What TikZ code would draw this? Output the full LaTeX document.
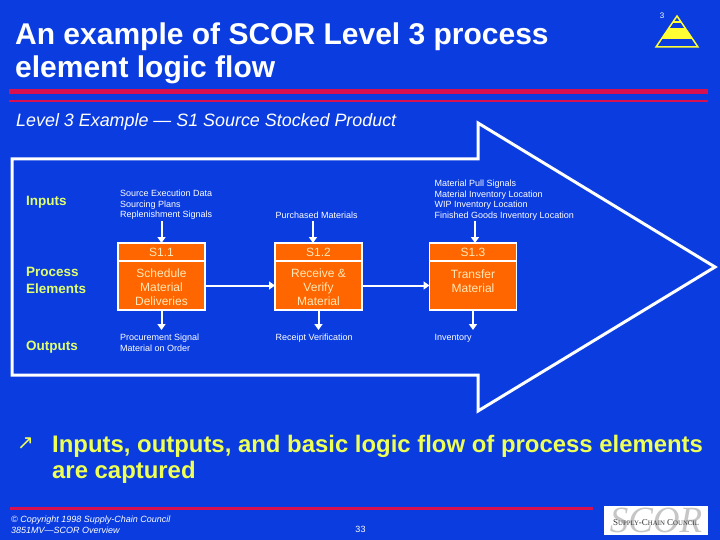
\documentclass[tikz,border=0pt]{standalone}
\usepackage{fontspec}
\setmainfont{Liberation Sans}
\newfontfamily\symfont{DejaVu Sans}
\newfontfamily\logofont{Liberation Serif}
\usetikzlibrary{shapes,positioning,fit,calc,arrows.meta}

\definecolor{slideblue}{HTML}{0A3CE0}
\definecolor{barred}{HTML}{D81050}
\definecolor{procorange}{HTML}{FF6600}
\definecolor{boxtext}{HTML}{FFE8B8}
\definecolor{sidegreen}{HTML}{E0FF70}
\definecolor{bulletyellow}{HTML}{EEFF55}
\definecolor{pyryellow}{HTML}{FFFF33}

\newcommand{\logocaps}[1]{{\fontsize{6.8}{8}\selectfont #1}}
\newcommand{\firstline}{\rule{0pt}{13pt}}

\tikzset{
    idbox/.style={draw=white, line width=1.4pt, fill=procorange, text=boxtext, minimum width=87pt, minimum height=18pt, inner sep=0pt, outer sep=0pt, font=\fontsize{12}{14}\selectfont},
    namebox/.style={draw=white, line width=1.4pt, fill=procorange, text=boxtext, minimum width=87pt, minimum height=49pt, inner sep=0pt, outer sep=0pt, align=center, font=\fontsize{12}{14}\selectfont},
    smalltext/.style={text=white, anchor=north west, inner sep=0pt, align=left, font=\fontsize{9}{10.8}\selectfont},
    sidetext/.style={text=sidegreen, anchor=west, inner sep=0pt, align=left, font=\bfseries\fontsize{13.5}{17}\selectfont},
    flowline/.style={draw=white, line width=2pt, -{Triangle[length=6pt,width=8pt]}},
}

\begin{document}
\begin{tikzpicture}[x=1pt, y=-1pt]
        \useasboundingbox (0, 0) rectangle (720, 540);
        \fill [slideblue] (0, 0) rectangle (720, 540);

        % Title and rules
        \node (title) [anchor=north west, text=white, inner sep=0pt, align=left, font=\bfseries\fontsize{30}{32.5}\selectfont] at (15, 23) {An example of SCOR Level 3 process\\element logic flow};
        \fill [barred] (9, 89) rectangle (708, 94);
        \fill [barred] (9, 100) rectangle (708, 102);
        \node (subtitle) [anchor=west, text=white, inner sep=0pt, font=\itshape\fontsize{17.9}{20}\selectfont] at (16, 121.5) {Level 3 Example — S1 Source Stocked Product};

        % Pyramid
        \node (pagenum) [text=white, inner sep=0pt, font=\fontsize{8}{9}\selectfont] at (662, 16) {3};
        \begin{scope}
            \clip (677, 16) -- (698, 47) -- (656, 47) -- cycle;
            \fill [pyryellow] (650, 28) rectangle (705, 39);
        \end{scope}
        \draw [pyryellow, line width=1.5pt] (677, 16) -- (698, 47) -- (656, 47) -- cycle;
        \draw [pyryellow, line width=1.5pt] (673, 22) -- (681, 22);

        % Big arrow
        \draw [white, line width=3pt, miter limit=10] (12, 159) -- (478, 159) -- (478, 123) -- (715, 267) -- (478, 411) -- (478, 375) -- (12, 375) -- cycle;

        % Row headings
        \node (inputs) [sidetext] at (26, 202) {Inputs};
        \node (elements) [sidetext] at (26, 280.5) {Process\\Elements};
        \node (outputs) [sidetext] at (26, 347.5) {Outputs};

        % Process elements
        \node (id1) [idbox] at (161.5, 252) {S1.1};
        \node (name1) [namebox, below=0pt of id1] {\firstline Schedule\\Material\\Deliveries};
        \node (id2) [idbox] at (318.5, 252) {S1.2};
        \node (name2) [namebox, below=0pt of id2] {\firstline Receive \&\\Verify\\Material};
        \node (id3) [idbox] at (473, 252) {S1.3};
        \node (name3) [namebox, below=0pt of id3] {\firstline Transfer\\Material\\\mbox{}};

        % Inputs
        \node (in1) [smalltext] at (120, 189.5) {Source Execution Data\\Sourcing Plans\\Replenishment Signals};
        \node (in2) [smalltext] at (275.5, 211.5) {Purchased Materials};
        \node (in3) [smalltext] at (434.5, 179.5) {Material Pull Signals\\Material Inventory Location\\WIP Inventory Location\\Finished Goods Inventory Location};

        % Outputs
        \node (out1) [smalltext] at (120, 334) {Procurement Signal\\Material on Order};
        \node (out2) [smalltext] at (275.5, 334) {Receipt Verification};
        \node (out3) [smalltext] at (434.5, 334) {Inventory};

        % Connectors
        \coordinate (arrowin2) at (313, 243);
        \coordinate (arrowin3) at (475, 243);
        \coordinate (top1) at (161.5, 221);
        \coordinate (top2) at (313, 221);
        \coordinate (top3) at (475, 221);
        \coordinate (end1) at (161.5, 330);
        \coordinate (end2) at (318.5, 330);
        \coordinate (end3) at (473, 330);
        \draw [flowline] (top1) -- (id1.north);
        \draw [flowline] (top2) -- (arrowin2);
        \draw [flowline] (top3) -- (arrowin3);
        \draw [flowline] (name1.east) -- (name2.west);
        \draw [flowline] (name2.east) -- (name3.west);
        \draw [flowline] (name1.south) -- (end1);
        \draw [flowline] (name2.south) -- (end2);
        \draw [flowline] (name3.south) -- (end3);

        % Bullet
        \node (bullet) [anchor=west, text=bulletyellow, inner sep=0pt, font=\symfont\fontsize{20}{20}\selectfont] at (17, 444) {↗};
        \node (summary) [anchor=north west, text=bulletyellow, inner sep=0pt, align=left, font=\bfseries\fontsize{23.9}{26}\selectfont] at (52, 435) {Inputs, outputs, and basic logic flow of process elements\\are captured};

        % Footer
        \fill [barred] (10, 507) rectangle (593, 510);
        \node (copyright) [anchor=north west, text=white, inner sep=0pt, align=left, font=\itshape\fontsize{9}{11}\selectfont] at (11, 516) {© Copyright 1998 Supply-Chain Council\\3851MV—SCOR Overview};
        \node (slidenum) [text=white, inner sep=0pt, font=\fontsize{9}{10}\selectfont] at (360.5, 529) {33};

        % Logo
        \fill [white] (604, 506) rectangle (708, 535);
        \node (logoscor) [text=gray!45, inner sep=0pt, font=\logofont\itshape\fontsize{37}{37}\selectfont] at (656, 520.5) {SCOR};
        \node (logotext) [text=black!80, inner sep=0pt, font=\logofont\fontsize{9}{9}\selectfont] at (656, 522.5) {S\logocaps{UPPLY}-C\logocaps{HAIN} C\logocaps{OUNCIL}};
\end{tikzpicture}
\end{document}
